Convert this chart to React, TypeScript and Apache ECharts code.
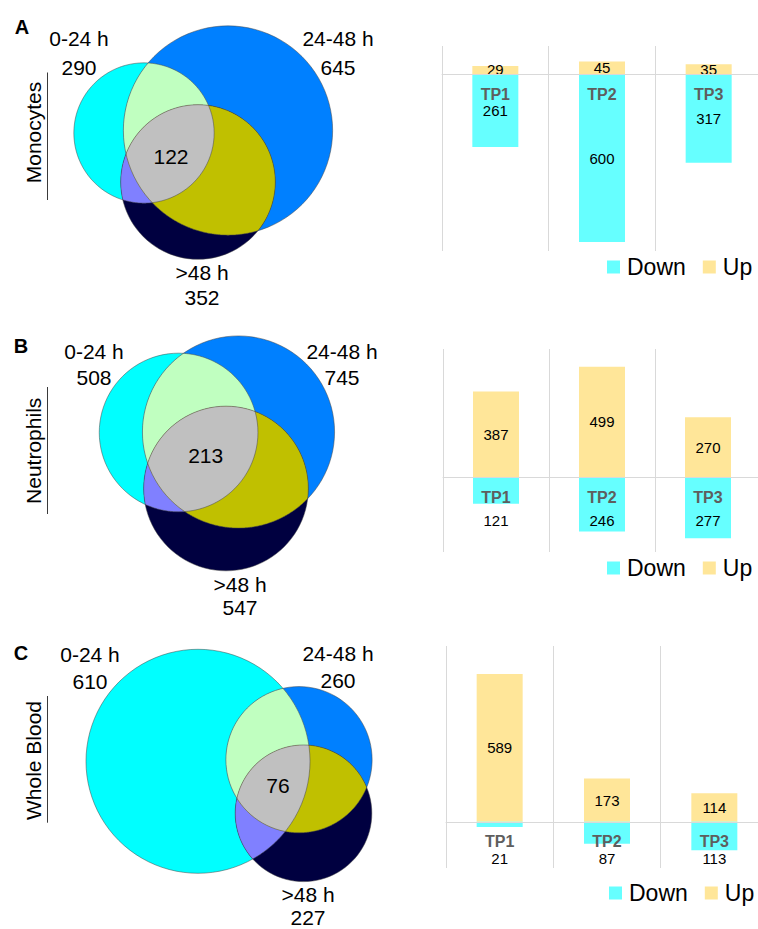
import React, { useEffect, useRef } from 'react';
import * as echarts from 'echarts';

// ---------------- data ----------------
const timePoints = ['TP1', 'TP2', 'TP3'];
const vennSetLabels = ['0-24 h', '24-48 h', '>48 h'];
const cellTypes = ['Monocytes', 'Neutrophils', 'Whole Blood'];
const panelLetters = ['A', 'B', 'C'];
const legendNames = ['Down', 'Up'];

const monocyteTotals = [290, 645, 352];
const monocyteCore = 122;
const neutrophilTotals = [508, 745, 547];
const neutrophilCore = 213;
const wholeBloodTotals = [610, 260, 227];
const wholeBloodCore = 76;

const monocyteUp = [29, 45, 35];
const monocyteDown = [261, 600, 317];
const neutrophilUp = [387, 499, 270];
const neutrophilDown = [121, 246, 277];
const wholeBloodUp = [589, 173, 114];
const wholeBloodDown = [21, 87, 113];

// ---------------- styling / layout ----------------
const FONT = '"Liberation Sans", Arial, Helvetica, sans-serif';
const DOWN_COLOR = '#66FFFF';
const UP_COLOR = '#FFE699';
const GRID_LINE = '#d9d9d9';
const SET_COLORS = ['#00FFFF', '#0080FF', '#000040'];
const PAIR_COLORS = { ab: '#C0FFC0', ac: '#8080FF', bc: '#C0C000' };
const CORE_COLOR = '#C0C0C0';
const TP_LABEL_GAP = 12;

const panels = [
  { totals: monocyteTotals, core: monocyteCore, up: monocyteUp, down: monocyteDown },
  { totals: neutrophilTotals, core: neutrophilCore, up: neutrophilUp, down: neutrophilDown },
  { totals: wholeBloodTotals, core: wholeBloodCore, up: wholeBloodUp, down: wholeBloodDown },
];

const layouts = [
  {
    k: 4.12,
    centers: [[144, 133], [228, 130.5], [198, 182]],
    setLabelPos: [[79, 38, 67], [338, 38, 67], [202, 272, 297]],
    corePos: [171, 156],
    letterPos: [22, 27],
    side: { x: 33, y: 132.5, lineX: 47.5, y1: 72.5, y2: 200 },
    grid: { left: 442, top: 46, width: 320, height: 205 },
    yRange: [-632, 100],
    downOffset: null as number | null,
    legend: { left: 607, top: 255.5 },
  },
  {
    k: 3.52,
    centers: [[178.6, 432.5], [238.5, 432], [226, 488.5]],
    setLabelPos: [[94, 351, 377], [342, 351, 377], [240, 584, 607.5]],
    corePos: [205.7, 455.7],
    letterPos: [21, 345.5],
    side: { x: 33, y: 450.8, lineX: 47.5, y1: 387, y2: 514 },
    grid: { left: 443, top: 349, width: 318, height: 203 },
    yRange: [-339, 579],
    downOffset: 43 as number | null,
    legend: { left: 607, top: 556.5 },
  },
  {
    k: 4.535,
    centers: [[198, 761.3], [299, 759.7], [303.5, 813.3]],
    setLabelPos: [[90, 654, 681], [338, 653.5, 680.5], [308, 894.5, 917]],
    corePos: [278, 785.8],
    letterPos: [21, 652.5],
    side: { x: 33, y: 760.5, lineX: 47.5, y1: 696, y2: 822.7 },
    grid: { left: 446, top: 646, width: 322, height: 222 },
    yRange: [-184, 701],
    downOffset: 37 as number | null,
    legend: { left: 609, top: 881.5 },
  },
];

type Circle = { x: number; y: number; r: number };

function inside(px: number, py: number, c: Circle) {
  return Math.hypot(px - c.x, py - c.y) <= c.r + 1e-6;
}

function circleIntersections(c1: Circle, c2: Circle): number[][] {
  const dx = c2.x - c1.x;
  const dy = c2.y - c1.y;
  const d = Math.hypot(dx, dy);
  if (d === 0 || d > c1.r + c2.r || d < Math.abs(c1.r - c2.r)) return [];
  const a = (c1.r * c1.r - c2.r * c2.r + d * d) / (2 * d);
  const h = Math.sqrt(Math.max(0, c1.r * c1.r - a * a));
  const mx = c1.x + (a * dx) / d;
  const my = c1.y + (a * dy) / d;
  return [
    [mx + (h * -dy) / d, my + (h * dx) / d],
    [mx - (h * -dy) / d, my - (h * dx) / d],
  ];
}

// intersection of disks is convex: gather boundary samples and sort by angle
function regionPolygon(cs: Circle[]): number[][] {
  const pts: number[][] = [];
  const N = 720;
  cs.forEach((c, i) => {
    for (let j = 0; j < N; j++) {
      const t = (j / N) * Math.PI * 2;
      const px = c.x + c.r * Math.cos(t);
      const py = c.y + c.r * Math.sin(t);
      if (cs.every((o, m) => m === i || inside(px, py, o))) pts.push([px, py]);
    }
  });
  for (let i = 0; i < cs.length; i++) {
    for (let j = i + 1; j < cs.length; j++) {
      circleIntersections(cs[i], cs[j]).forEach((p) => {
        if (cs.every((o) => Math.hypot(p[0] - o.x, p[1] - o.y) <= o.r + 0.01)) pts.push(p);
      });
    }
  }
  const mx = pts.reduce((s, p) => s + p[0], 0) / pts.length;
  const my = pts.reduce((s, p) => s + p[1], 0) / pts.length;
  pts.sort((p, q) => Math.atan2(p[1] - my, p[0] - mx) - Math.atan2(q[1] - my, q[0] - mx));
  return pts;
}

function buildOption() {
  const graphics: any[] = [];
  const grids: any[] = [];
  const xAxes: any[] = [];
  const yAxes: any[] = [];
  const series: any[] = [];
  const legends: any[] = [];

  panels.forEach((p, i) => {
    const L = layouts[i];
    const circles: Circle[] = p.totals.map((n, j) => ({
      x: L.centers[j][0],
      y: L.centers[j][1],
      r: L.k * Math.sqrt(n),
    }));

    circles.forEach((c, j) =>
      graphics.push({
        type: 'circle',
        z2: 1,
        shape: { cx: c.x, cy: c.y, r: c.r },
        style: { fill: SET_COLORS[j] },
      })
    );
    const pairs: [number, number, string][] = [
      [0, 1, PAIR_COLORS.ab],
      [0, 2, PAIR_COLORS.ac],
      [1, 2, PAIR_COLORS.bc],
    ];
    pairs.forEach(([a, b, col]) =>
      graphics.push({
        type: 'polygon',
        z2: 2,
        shape: { points: regionPolygon([circles[a], circles[b]]) },
        style: { fill: col },
      })
    );
    graphics.push({
      type: 'polygon',
      z2: 3,
      shape: { points: regionPolygon(circles) },
      style: { fill: CORE_COLOR },
    });
    circles.forEach((c) =>
      graphics.push({
        type: 'circle',
        z2: 4,
        shape: { cx: c.x, cy: c.y, r: c.r },
        style: { fill: 'none', stroke: 'rgba(70,70,70,0.5)', lineWidth: 1 },
      })
    );

    const txt = (x: number, y: number, text: string, extra: any = {}) => ({
      type: 'text',
      z2: 5,
      x,
      y,
      style: {
        text,
        fontSize: 21,
        fontFamily: FONT,
        fill: '#000',
        align: 'center',
        verticalAlign: 'middle',
        ...extra,
      },
    });

    vennSetLabels.forEach((name, j) => {
      const [x, y1, y2] = L.setLabelPos[j];
      graphics.push(txt(x, y1, name));
      graphics.push(txt(x, y2, String(p.totals[j])));
    });
    graphics.push(txt(L.corePos[0], L.corePos[1], String(p.core)));
    graphics.push(txt(L.letterPos[0], L.letterPos[1], panelLetters[i], { fontSize: 20, fontWeight: 'bold' }));
    graphics.push({
      ...txt(L.side.x, L.side.y, cellTypes[i]),
      rotation: Math.PI / 2,
    });
    graphics.push({
      type: 'line',
      z2: 5,
      shape: { x1: L.side.lineX, y1: L.side.y1, x2: L.side.lineX, y2: L.side.y2 },
      style: { stroke: '#3a3a3a', lineWidth: 1 },
    });

    // bar chart
    const [yMin, yMax] = L.yRange;
    // distance of the zero line above the grid bottom; the TP labels sit just under zero
    const zeroAboveBottom = (L.grid.height * (0 - yMin)) / (yMax - yMin);
    grids.push({ ...L.grid, containLabel: false, outerBoundsMode: 'none' });
    xAxes.push({
      type: 'category',
      gridIndex: i,
      data: timePoints,
      z: 10,
      axisLine: { show: true, onZero: true, lineStyle: { color: GRID_LINE, width: 1 } },
      axisTick: { show: false },
      splitLine: { show: true, lineStyle: { color: GRID_LINE, width: 1 } },
      axisLabel: {
        margin: TP_LABEL_GAP - zeroAboveBottom,
        fontSize: 16,
        fontWeight: 'bold',
        fontFamily: FONT,
        color: '#5e5e5e',
        interval: 0,
      },
    });
    yAxes.push({
      type: 'value',
      gridIndex: i,
      min: yMin,
      max: yMax,
      show: false,
      splitLine: { show: false },
    });
    const valueLabel = { show: true, color: '#000', fontSize: 15, fontFamily: FONT };
    series.push({
      type: 'bar',
      name: 'Up',
      xAxisIndex: i,
      yAxisIndex: i,
      stack: 'tp' + i,
      barWidth: 46,
      data: p.up,
      itemStyle: { color: UP_COLOR },
      label: { ...valueLabel, position: 'inside' },
    });
    series.push({
      type: 'bar',
      name: 'Down',
      xAxisIndex: i,
      yAxisIndex: i,
      stack: 'tp' + i,
      barWidth: 46,
      data: p.down.map((v) => -v),
      itemStyle: { color: DOWN_COLOR },
      label:
        L.downOffset == null
          ? { ...valueLabel, position: 'inside', formatter: (q: any) => String(Math.abs(q.value)) }
          : {
              ...valueLabel,
              position: ['50%', L.downOffset],
              align: 'center',
              verticalAlign: 'middle',
              formatter: (q: any) => String(Math.abs(q.value)),
            },
    });
    legends.push({
      data: legendNames,
      left: L.legend.left,
      top: L.legend.top,
      padding: 0,
      icon: 'rect',
      itemWidth: 13,
      itemHeight: 13,
      itemGap: 17,
      selectedMode: false,
      textStyle: { fontSize: 23, fontFamily: FONT, color: '#000', padding: [0, 0, 0, 2] },
    });
  });

  return {
    animation: false,
    backgroundColor: '#ffffff',
    textStyle: { fontFamily: FONT },
    graphic: { elements: graphics },
    grid: grids,
    xAxis: xAxes,
    yAxis: yAxes,
    legend: legends,
    series,
  };
}

export default function App() {
  const ref = useRef<HTMLDivElement>(null);
  useEffect(() => {
    if (!ref.current) return;
    const chart = echarts.init(ref.current, undefined, { renderer: 'svg' });
    chart.setOption(buildOption() as any);
    return () => chart.dispose();
  }, []);
  return (
    <div
      ref={ref}
      style={{ position: 'absolute', left: 0, top: 0, width: 758, height: 929, background: '#fff' }}
    />
  );
}
